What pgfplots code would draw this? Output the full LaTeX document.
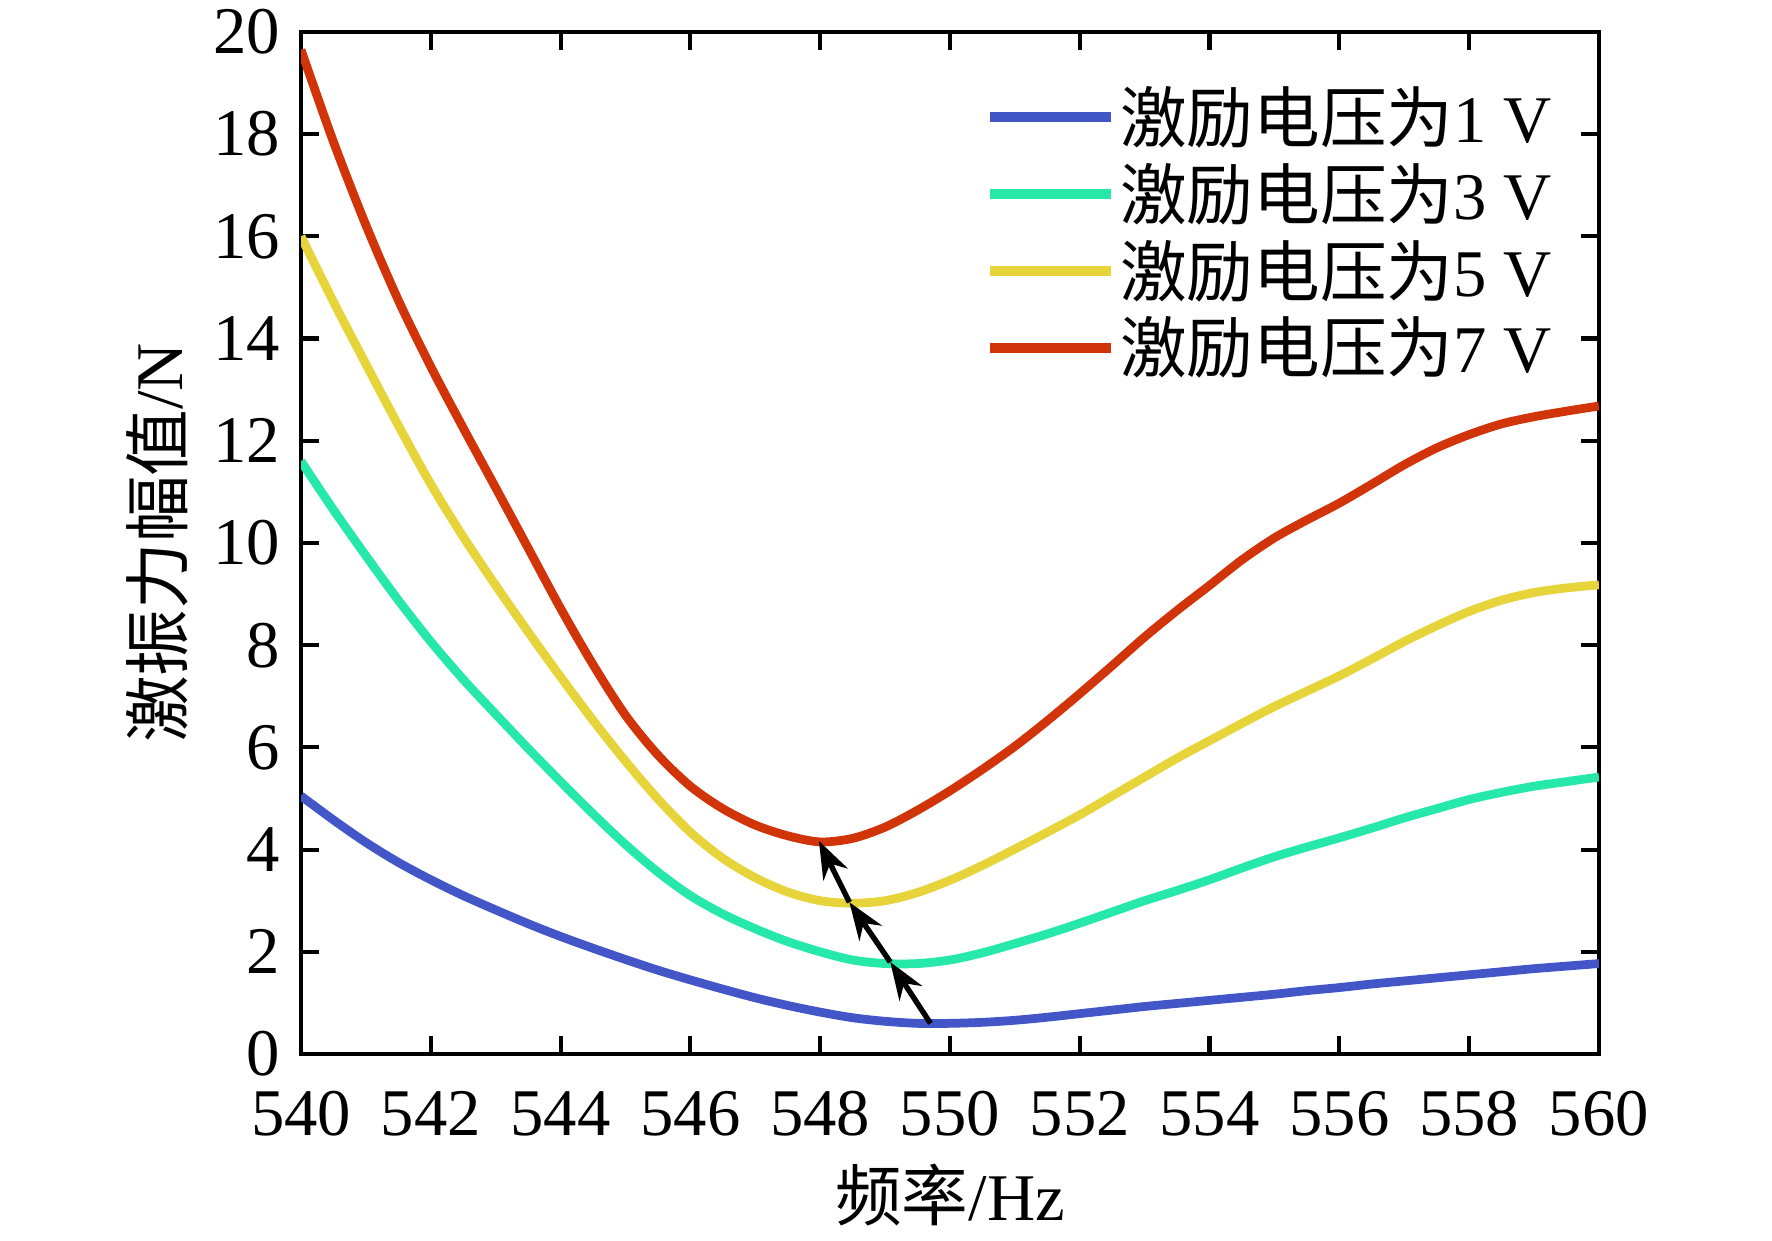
\documentclass[border=0pt]{standalone}
\usepackage{fontspec}
\setmainfont{Liberation Serif}
\newfontfamily\cjk{Noto Sans CJK SC}
\usepackage{pgfplots}
\pgfplotsset{compat=1.18}
\usetikzlibrary{arrows.meta}
\definecolor{cA}{RGB}{66,86,200}
\definecolor{cB}{RGB}{38,232,168}
\definecolor{cC}{RGB}{230,212,58}
\definecolor{cD}{RGB}{210,52,10}
\begin{document}
\begin{tikzpicture}
\useasboundingbox (-72.24pt,-44.64pt) rectangle (353.04pt,252.96pt);
\begin{axis}[
  scale only axis, width=311.5pt, height=245.3pt,
  at={(0,0)}, anchor=south west,
  xmin=540, xmax=560, ymin=0, ymax=20,
  xtick={540,542,...,560}, ytick={0,2,...,20},
  tick align=inside, major tick length=4.3pt,
  axis line style={line width=1pt},
  tick style={line width=1pt, black},
  font=\fontsize{16}{19}\selectfont,
  /pgf/number format/assume math mode=true,
  xticklabel style={yshift=-5.5pt},
  yticklabel style={xshift=-1.5pt},
  xlabel={{\cjk 频率}/Hz},
  ylabel={{\cjk 激振力幅值}/N},
  xlabel style={at={(axis description cs:0.5,-0.138)}, anchor=center},
  ylabel style={at={(axis description cs:-0.111,0.5)}, anchor=center},
  legend style={at={(0.977,0.96)}, anchor=north east, draw=none, fill=none,
    nodes={inner sep=1pt}, row sep=1.5pt},
  legend cell align=left,
  legend image code/.code={\draw[#1, line width=2.4pt] (0pt,0pt) -- (29pt,0pt);},
]
\addplot[cA, line width=2.1pt, smooth] coordinates {
(540,5.05)(540.5,4.58)(541,4.14)(541.5,3.75)(542,3.41)(542.5,3.1)(543,2.82)(543.5,2.55)
(544,2.3)(544.5,2.07)(545,1.85)(545.5,1.64)(546,1.45)(546.5,1.27)(547,1.1)(547.5,0.95)
(548,0.82)(548.5,0.71)(549,0.64)(549.5,0.6)(550,0.6)(550.5,0.62)(551,0.66)(551.5,0.72)
(552,0.79)(552.5,0.86)(553,0.93)(553.5,0.99)(554,1.05)(554.5,1.11)(555,1.17)(555.5,1.24)
(556,1.3)(556.5,1.37)(557,1.43)(557.5,1.49)(558,1.55)(558.5,1.61)(559,1.67)(559.5,1.72)(560,1.77)};
\addlegendentry{{\cjk 激励电压为}1 V}
\addplot[cB, line width=2.1pt, smooth] coordinates {
(540,11.6)(540.5,10.65)(541,9.75)(541.5,8.88)(542,8.07)(542.5,7.33)(543,6.65)(543.5,5.98)
(544,5.33)(544.5,4.7)(545,4.1)(545.5,3.56)(546,3.1)(546.5,2.74)(547,2.45)(547.5,2.2)
(548,2.0)(548.5,1.84)(549,1.77)(549.5,1.77)(550,1.84)(550.5,1.98)(551,2.16)(551.5,2.35)
(552,2.56)(552.5,2.78)(553,3.0)(553.5,3.2)(554,3.41)(554.5,3.64)(555,3.86)(555.5,4.05)
(556,4.23)(556.5,4.42)(557,4.62)(557.5,4.8)(558,4.98)(558.5,5.12)(559,5.24)(559.5,5.33)(560,5.42)};
\addlegendentry{{\cjk 激励电压为}3 V}
\addplot[cC, line width=2.1pt, smooth] coordinates {
(540,16.0)(540.5,14.72)(541,13.5)(541.5,12.3)(542,11.15)(542.5,10.12)(543,9.17)(543.5,8.26)
(544,7.38)(544.5,6.53)(545,5.73)(545.5,4.99)(546,4.34)(546.5,3.83)(547,3.45)(547.5,3.17)
(548,3.0)(548.5,2.95)(549,3.0)(549.5,3.16)(550,3.4)(550.5,3.69)(551,4.01)(551.5,4.34)
(552,4.68)(552.5,5.05)(553,5.42)(553.5,5.79)(554,6.13)(554.5,6.47)(555,6.8)(555.5,7.1)
(556,7.4)(556.5,7.73)(557,8.07)(557.5,8.38)(558,8.66)(558.5,8.88)(559,9.03)(559.5,9.12)(560,9.18)};
\addlegendentry{{\cjk 激励电压为}5 V}
\addplot[cD, line width=2.1pt, smooth] coordinates {
(540,19.65)(540.5,17.85)(541,16.22)(541.5,14.75)(542,13.45)(542.5,12.25)(543,11.08)(543.5,9.9)
(544,8.72)(544.5,7.62)(545,6.63)(545.5,5.85)(546,5.24)(546.5,4.8)(547,4.48)(547.5,4.27)
(548,4.15)(548.5,4.22)(549,4.44)(549.5,4.77)(550,5.15)(550.5,5.57)(551,6.02)(551.5,6.52)
(552,7.05)(552.5,7.6)(553,8.16)(553.5,8.68)(554,9.17)(554.5,9.67)(555,10.1)(555.5,10.45)
(556,10.78)(556.5,11.15)(557,11.53)(557.5,11.86)(558,12.12)(558.5,12.33)(559,12.47)(559.5,12.58)(560,12.68)};
\addlegendentry{{\cjk 激励电压为}7 V}
\addplot[black, line width=1.3pt, -{Stealth[length=9pt,width=6.5pt]}, forget plot] coordinates {(549.7,0.6)(549.08,1.8)};
\addplot[black, line width=1.3pt, -{Stealth[length=9pt,width=6.5pt]}, forget plot] coordinates {(549.08,1.8)(548.45,2.97)};
\addplot[black, line width=1.3pt, -{Stealth[length=9pt,width=6.5pt]}, forget plot] coordinates {(548.45,2.97)(547.98,4.17)};
\end{axis}
\end{tikzpicture}
\end{document}
